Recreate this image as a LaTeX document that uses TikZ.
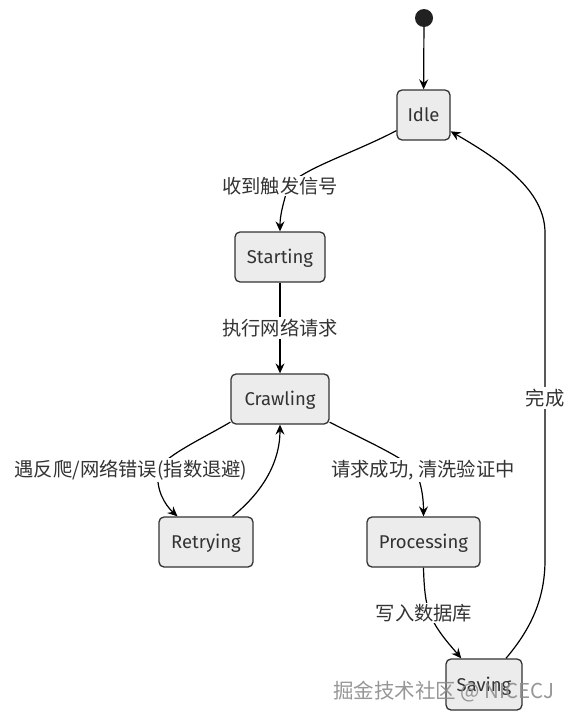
\documentclass[tikz,border=0pt]{standalone}
\usepackage{fontspec}
\setmainfont{Noto Sans CJK SC}
\newfontfamily\statefont{Fira Sans}
\usetikzlibrary{arrows.meta}
\definecolor{nodefill}{HTML}{ECECEC}
\definecolor{nodeline}{HTML}{333333}
\definecolor{txt}{HTML}{333333}
\tikzset{
  statebox/.style={draw=nodeline, fill=nodefill, line width=1.3pt, rounded corners=5pt,
    text=txt, inner sep=0pt, text height=13pt, text depth=0pt,
    font=\statefont\fontsize{18.5}{22}\selectfont},
  edgelabel/.style={fill=white, text=txt, inner sep=1.5pt, font=\fontsize{19.3}{23}\selectfont},
  arr/.style={draw=black, line width=1.2pt, -{Stealth[length=10pt,width=9pt,inset=3.5pt]}},
}
\begin{document}
\begin{tikzpicture}[x=1pt,y=-1pt]
\useasboundingbox (0,0) rectangle (575,720);
\fill[white] (0,0) rectangle (575,720);
% states
\node[circle, fill=black!87, minimum size=18pt, inner sep=0pt] (start) at (424,18) {};
\node[statebox, minimum width=53pt, minimum height=50pt] (idle) at (423.5,115) {Idle};
\node[statebox, minimum width=90pt, minimum height=50pt] (starting) at (280,257) {Starting};
\node[statebox, minimum width=98pt, minimum height=50pt] (crawling) at (280,399) {Crawling};
\node[statebox, minimum width=94pt, minimum height=50pt] (retrying) at (206,542) {Retrying};
\node[statebox, minimum width=113pt, minimum height=50pt] (processing) at (423.5,542) {Processing};
\node[statebox, minimum width=76pt, minimum height=51pt] (saving) at (484,684.5) {Saving};
% label positions
\coordinate (c1) at (287,190);
\coordinate (c3) at (158,472);
\coordinate (c4) at (416,472);
\coordinate (c5) at (430,614);
% edges
\draw[arr] (start) -- (idle);
\draw[arr] (idle.210) .. controls (350,155) and (292,172) .. (c1)
  .. controls (283,205) and (280,215) .. (starting.north);
\draw[arr] (starting) -- (crawling);
\draw[arr] (crawling.205) .. controls (200,440) and (160,458) .. (c3)
  .. controls (156,490) and (165,505) .. (retrying.138);
\draw[arr] (retrying.44) .. controls (265,490) and (280,460) .. (crawling.south);
\draw[arr] (crawling.335) .. controls (360,438) and (410,460) .. (c4)
  .. controls (422,485) and (423.5,500) .. (processing.north);
\draw[arr] (processing.south) .. controls (424,590) and (426,605) .. (c5)
  .. controls (436,630) and (450,645) .. (saving.131);
\draw[arr] (saving.50) .. controls (530,630) and (545,600) .. (545,560) -- (545,233)
  .. controls (545,190) and (500,160) .. (idle.329);
% edge labels
\node[edgelabel] (l1) at (280,186) {收到触发信号};
\node[edgelabel] (l2) at (280,328) {执行网络请求};
\node[edgelabel] (l3) at (131,470) {遇反爬/网络错误(指数退避)};
\node[edgelabel] (l4) at (423,470) {请求成功, 清洗验证中};
\node[edgelabel] (l5) at (424,613) {写入数据库};
\node[edgelabel] (l6) at (545,398) {完成};
% watermark
\node[text=black!45, opacity=0.9, font=\fontsize{20.5}{24}\selectfont, inner sep=0pt] (wm) at (444,692) {掘金技术社区 @ NICECJ};
\end{tikzpicture}
\end{document}
